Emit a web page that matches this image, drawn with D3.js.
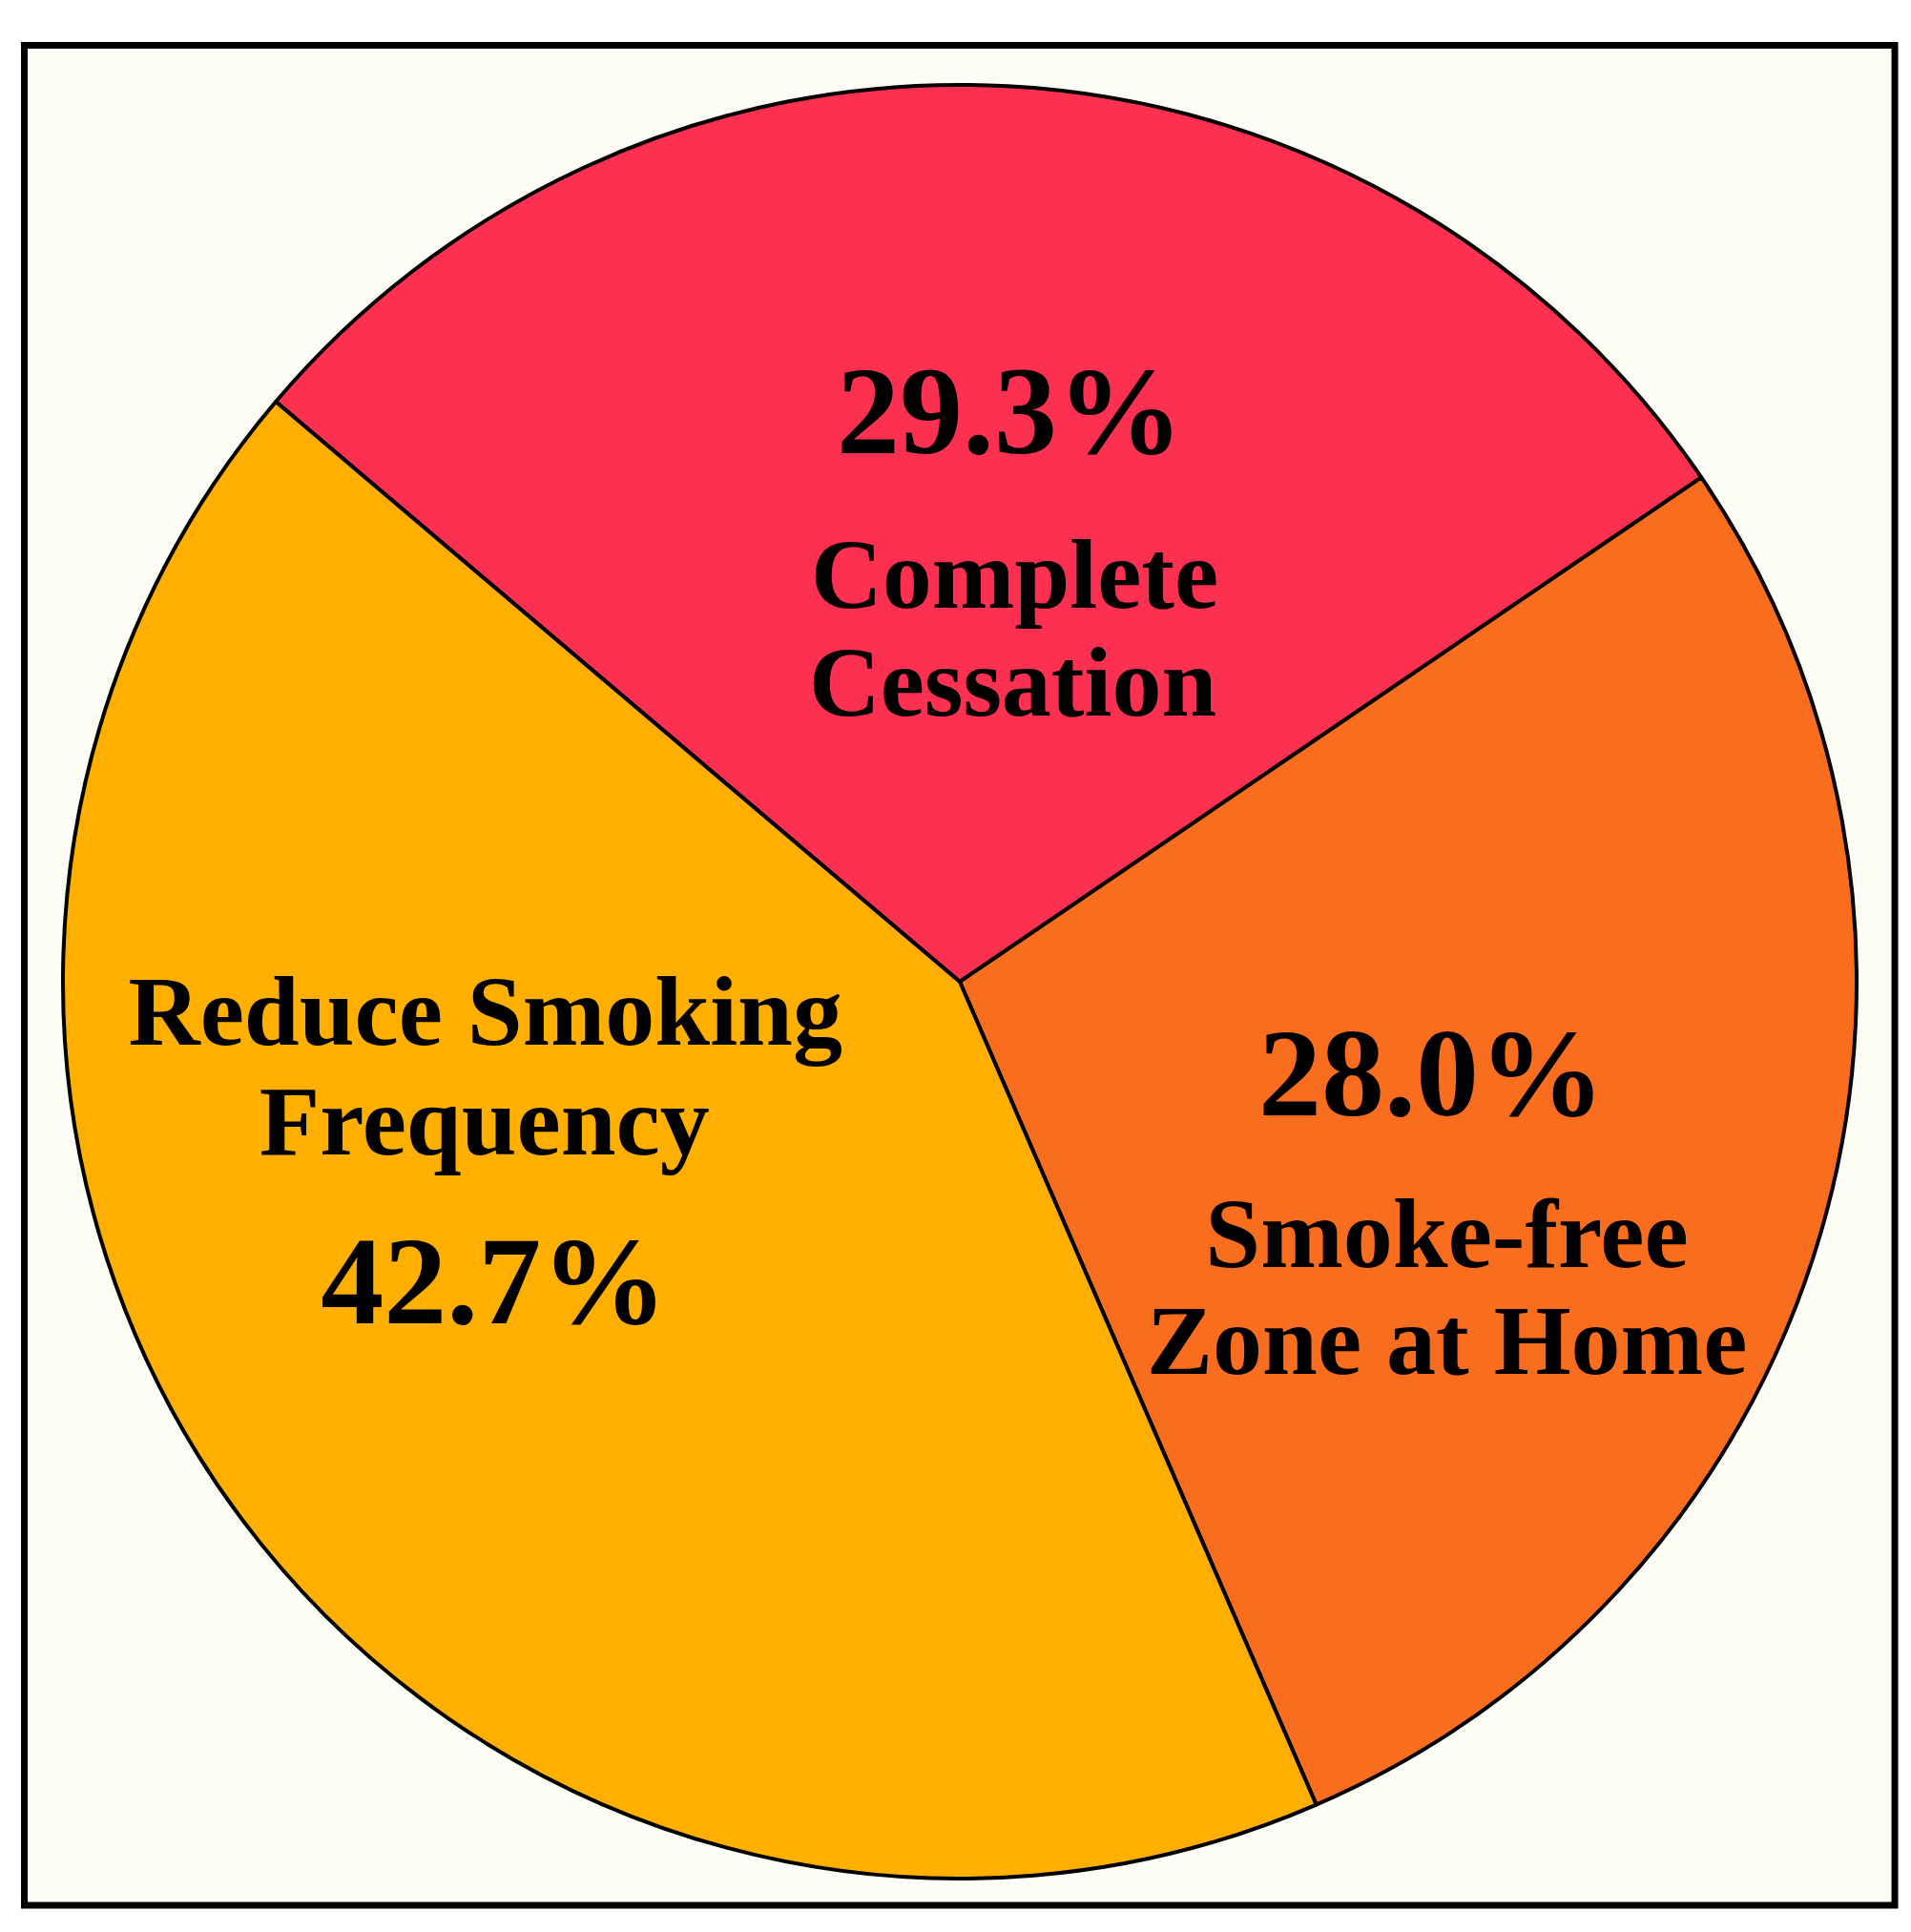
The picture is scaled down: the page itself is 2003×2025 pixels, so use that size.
<!DOCTYPE html>
<html>
<head>
<meta charset="utf-8">
<script src="https://cdn.jsdelivr.net/npm/d3@7"></script>
<style>
  html, body { margin: 0; padding: 0; background: #ffffff; }
  svg { display: block; }
  text.lbl { font-family: "Liberation Serif", "Times New Roman", Times, serif; font-weight: 700; fill: #000; }
</style>
</head>
<body>
<svg id="chart" width="2003" height="2025"></svg>
<script>
// ---- Data ----
const categories = ["Complete Cessation", "Smoke-free Zone at Home", "Reduce Smoking Frequency"];
const values = [29.3, 28.0, 42.7];
const percentLabels = ["29.3%", "28.0%", "42.7%"];
const labelLines = [["Complete", "Cessation"], ["Smoke-free", "Zone at Home"], ["Reduce Smoking", "Frequency"]];
const colors = ["#fc3151", "#f96e1e", "#feaf00"];

// ---- Layout ----
const cx = 1006, cy = 1029, R = 940;
const startDeg = -49.7;

const svg = d3.select("#chart");

// frame
svg.append("rect")
  .attr("x", 25.5).attr("y", 47.5)
  .attr("width", 1960.5).attr("height", 1949.5)
  .attr("fill", "#fdfdf5")
  .attr("stroke", "#000").attr("stroke-width", 7);

const data = categories.map((c, i) => ({ cat: c, value: values[i], pct: percentLabels[i], lines: labelLines[i], color: colors[i] }));

const pie = d3.pie()
  .sort(null)
  .value(d => d.value)
  .startAngle(startDeg * Math.PI / 180)
  .endAngle(startDeg * Math.PI / 180 + 2 * Math.PI);

const arc = d3.arc().innerRadius(0).outerRadius(R);
const labelArc = d3.arc().innerRadius(R * 0.55).outerRadius(R * 0.55);

const g = svg.append("g").attr("transform", `translate(${cx},${cy})`);
const arcs = pie(data);

g.selectAll("path.slice")
  .data(arcs)
  .join("path")
  .attr("class", "slice")
  .attr("d", arc)
  .attr("fill", d => d.data.color)
  .attr("stroke", "#000")
  .attr("stroke-width", 4)
  .attr("stroke-linejoin", "round");

// label offsets relative to slice centroid (layout only)
const labelLayout = [
  { pct: [25, -38], lines: [[30, 124], [28, 237]] },
  { pct: [-2, -4], lines: [[14, 155], [14, 267]] },
  { pct: [-73, 50], lines: [[-82, -242], [-83, -127]] }
];

arcs.forEach((a, i) => {
  const [x0, y0] = labelArc.centroid(a);
  const L = labelLayout[i];
  g.append("text")
    .attr("class", "lbl")
    .attr("x", x0 + L.pct[0]).attr("y", y0 + L.pct[1])
    .attr("text-anchor", "middle")
    .style("font-size", "132px")
    .text(a.data.pct);
  a.data.lines.forEach((ln, j) => {
    g.append("text")
      .attr("class", "lbl")
      .attr("x", x0 + L.lines[j][0]).attr("y", y0 + L.lines[j][1])
      .attr("text-anchor", "middle")
      .style("font-size", "104px")
      .text(ln);
  });
});
</script>
</body>
</html>
